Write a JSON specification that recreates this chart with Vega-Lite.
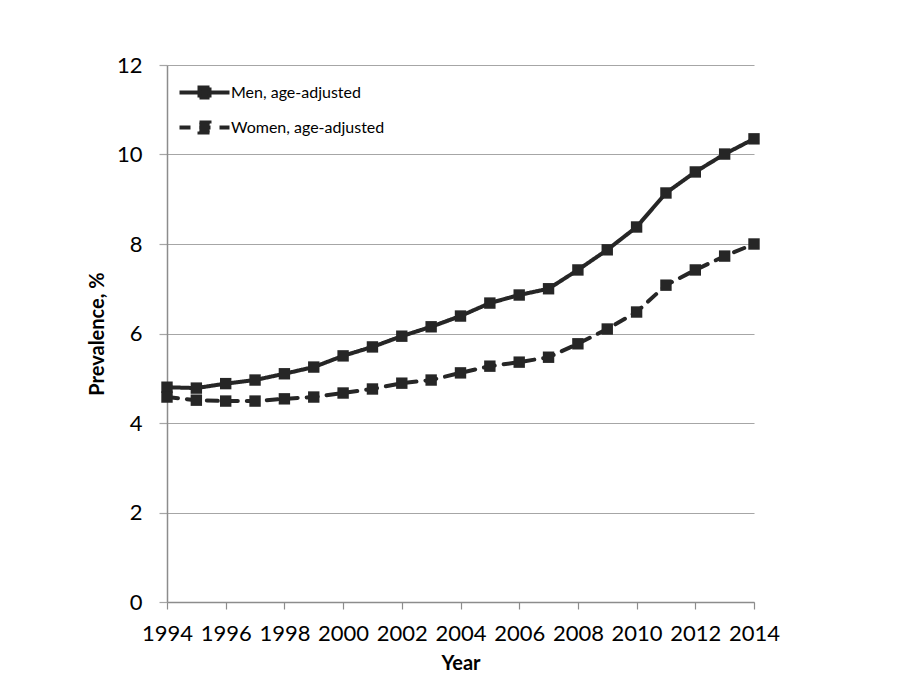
{
  "$schema": "https://vega.github.io/schema/vega-lite/v6.json",
  "width": 587,
  "height": 537,
  "autosize": "none",
  "padding": {"left": 167, "top": 65, "right": 166, "bottom": 80},
  "background": "white",
  "config": {
    "font": "Lato",
    "view": {"stroke": null},
    "axis": {"labelFont": "Lato", "titleFont": "Lato", "labelColor": "#000000", "titleColor": "#000000"}
  },
  "data": {
    "values": [
      {"year": 1994, "series": "Men, age-adjusted", "value": 4.80},
      {"year": 1995, "series": "Men, age-adjusted", "value": 4.78},
      {"year": 1996, "series": "Men, age-adjusted", "value": 4.88},
      {"year": 1997, "series": "Men, age-adjusted", "value": 4.96},
      {"year": 1998, "series": "Men, age-adjusted", "value": 5.10},
      {"year": 1999, "series": "Men, age-adjusted", "value": 5.25},
      {"year": 2000, "series": "Men, age-adjusted", "value": 5.50},
      {"year": 2001, "series": "Men, age-adjusted", "value": 5.70},
      {"year": 2002, "series": "Men, age-adjusted", "value": 5.94},
      {"year": 2003, "series": "Men, age-adjusted", "value": 6.15},
      {"year": 2004, "series": "Men, age-adjusted", "value": 6.39},
      {"year": 2005, "series": "Men, age-adjusted", "value": 6.68},
      {"year": 2006, "series": "Men, age-adjusted", "value": 6.86},
      {"year": 2007, "series": "Men, age-adjusted", "value": 7.00},
      {"year": 2008, "series": "Men, age-adjusted", "value": 7.42},
      {"year": 2009, "series": "Men, age-adjusted", "value": 7.87},
      {"year": 2010, "series": "Men, age-adjusted", "value": 8.38},
      {"year": 2011, "series": "Men, age-adjusted", "value": 9.14},
      {"year": 2012, "series": "Men, age-adjusted", "value": 9.61},
      {"year": 2013, "series": "Men, age-adjusted", "value": 10.01},
      {"year": 2014, "series": "Men, age-adjusted", "value": 10.35},
      {"year": 1994, "series": "Women, age-adjusted", "value": 4.58},
      {"year": 1995, "series": "Women, age-adjusted", "value": 4.51},
      {"year": 1996, "series": "Women, age-adjusted", "value": 4.49},
      {"year": 1997, "series": "Women, age-adjusted", "value": 4.49},
      {"year": 1998, "series": "Women, age-adjusted", "value": 4.54},
      {"year": 1999, "series": "Women, age-adjusted", "value": 4.58},
      {"year": 2000, "series": "Women, age-adjusted", "value": 4.67},
      {"year": 2001, "series": "Women, age-adjusted", "value": 4.76},
      {"year": 2002, "series": "Women, age-adjusted", "value": 4.89},
      {"year": 2003, "series": "Women, age-adjusted", "value": 4.96},
      {"year": 2004, "series": "Women, age-adjusted", "value": 5.12},
      {"year": 2005, "series": "Women, age-adjusted", "value": 5.27},
      {"year": 2006, "series": "Women, age-adjusted", "value": 5.36},
      {"year": 2007, "series": "Women, age-adjusted", "value": 5.47},
      {"year": 2008, "series": "Women, age-adjusted", "value": 5.77},
      {"year": 2009, "series": "Women, age-adjusted", "value": 6.10},
      {"year": 2010, "series": "Women, age-adjusted", "value": 6.48},
      {"year": 2011, "series": "Women, age-adjusted", "value": 7.08},
      {"year": 2012, "series": "Women, age-adjusted", "value": 7.42},
      {"year": 2013, "series": "Women, age-adjusted", "value": 7.73},
      {"year": 2014, "series": "Women, age-adjusted", "value": 8.00}
    ]
  },
  "layer": [
    {
      "mark": {"type": "line", "strokeWidth": 4, "color": "#262626", "strokeCap": "round"},
      "encoding": {
        "x": {
          "field": "year", "type": "quantitative",
          "scale": {"domain": [1994, 2014], "nice": false, "zero": false},
          "axis": {
            "values": [1994, 1996, 1998, 2000, 2002, 2004, 2006, 2008, 2010, 2012, 2014],
            "format": "d", "grid": false, "title": "Year",
            "labelOverlap": false, "labelFlush": false, "labelBound": false,
            "labelFontSize": 22, "titleFontSize": 20, "titleFontWeight": "bold",
            "labelPadding": 14, "titlePadding": 9,
            "domainColor": "#8c8c8c", "domainWidth": 1.5, "tickColor": "#8c8c8c", "tickSize": 7, "tickWidth": 1.2
          }
        },
        "y": {
          "field": "value", "type": "quantitative",
          "scale": {"domain": [0, 12], "nice": false},
          "axis": {
            "values": [0, 2, 4, 6, 8, 10, 12],
            "title": "Prevalence, %",
            "labelFontSize": 22, "titleFontSize": 20, "titleFontWeight": "bold",
            "labelPadding": 17, "titlePadding": 9,
            "gridColor": "#a6a6a6", "gridWidth": 1.2,
            "domainColor": "#8c8c8c", "domainWidth": 1.5, "tickColor": "#a6a6a6", "tickSize": 8, "tickWidth": 1.2
          }
        },
        "strokeDash": {
          "field": "series", "type": "nominal",
          "scale": {"domain": ["Men, age-adjusted", "Women, age-adjusted"], "range": [[1, 0], [11, 9]]},
          "legend": {
            "title": null,
            "orient": "none",
            "legendX": 23,
            "legendY": 13,
            "padding": 0,
            "labelFontSize": 16,
            "labelColor": "#000000",
            "labelFont": "Lato",
            "labelLimit": 400,
            "rowPadding": 7,
            "symbolType": "M-2,0L2,0M-0.4,-0.4L0.4,-0.4L0.4,0.4L-0.4,0.4Z",
            "symbolSize": 625,
            "symbolStrokeWidth": 4,
            "symbolStrokeColor": "#262626",
            "symbolFillColor": "#262626",
            "labelOffset": 12
          }
        }
      }
    },
    {
      "mark": {"type": "point", "shape": "square", "filled": true, "size": 130, "color": "#262626", "opacity": 1},
      "encoding": {
        "x": {"field": "year", "type": "quantitative"},
        "y": {"field": "value", "type": "quantitative"}
      }
    }
  ]
}
